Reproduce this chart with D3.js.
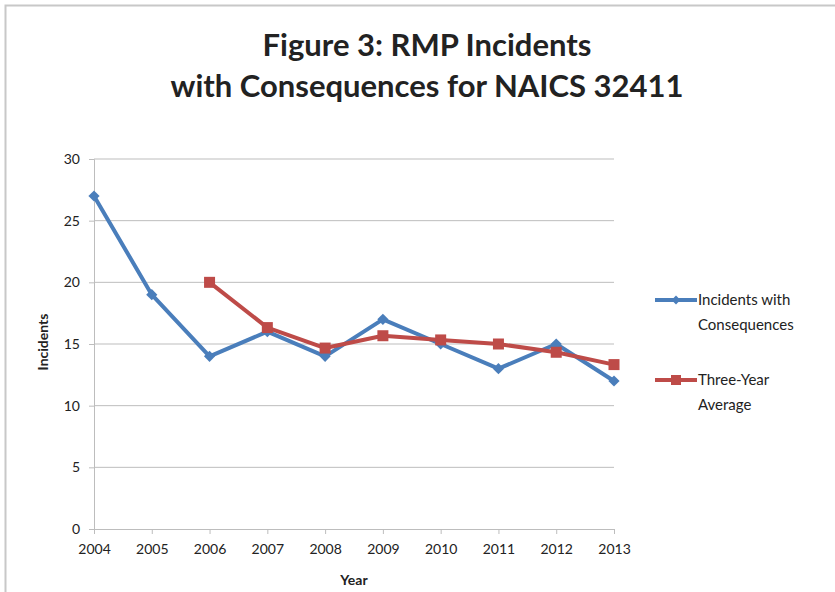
<!DOCTYPE html>
<html>
<head>
<meta charset="utf-8">
<script src="https://cdn.jsdelivr.net/npm/d3@7"></script>
<style>
  body { margin: 0; background: #fff; }
  text { font-family: Lato, "Open Sans", sans-serif; fill: #222; }
</style>
</head>
<body>
<svg id="chart" width="835" height="592"></svg>
<script>
// chart data
const years = [2004, 2005, 2006, 2007, 2008, 2009, 2010, 2011, 2012, 2013];
const incidents = [27, 19, 14, 16, 14, 17, 15, 13, 15, 12];
const avgYears = [2006, 2007, 2008, 2009, 2010, 2011, 2012, 2013];
const threeYearAvg = [20, 16.33, 14.67, 15.67, 15.33, 15, 14.33, 13.33];
const yTicks = [0, 5, 10, 15, 20, 25, 30];
const seriesNames = [["Incidents with", "Consequences"], ["Three-Year", "Average"]];

const blue = "#4a7ebb";
const red = "#be4b48";

let svg = d3.select("#chart");

// outer frame (top + left only visible)
svg.append("path")
    .attr("d", "M5.5,592 V5.5 H835")
    .attr("fill", "none")
    .attr("stroke", "#c8c8c8")
    .attr("stroke-width", 2);

// title
svg.append("text")
    .attr("x", 427).attr("y", 56)
    .attr("text-anchor", "middle")
    .style("font-size", "31px").style("font-weight", "bold")
    .text("Figure 3: RMP Incidents");
svg.append("text")
    .attr("x", 427).attr("y", 97)
    .attr("text-anchor", "middle")
    .style("font-size", "31px").style("font-weight", "bold")
    .text("with Consequences for NAICS 32411");

let x = d3.scalePoint().domain(years).range([94, 614]);
let y = d3.scaleLinear().domain([0, 30]).range([529, 159]);

// gridlines
svg.append("g")
    .selectAll("line")
    .data(yTicks.filter(d => d > 0))
    .enter().append("line")
    .attr("x1", 94).attr("x2", 614)
    .attr("y1", d => y(d)).attr("y2", d => y(d))
    .attr("stroke", "#bdbdbd").attr("stroke-width", 1);

// y axis
let yAxis = svg.append("g")
    .attr("transform", "translate(94,0)")
    .call(d3.axisLeft(y).tickValues(yTicks).tickSize(5).tickPadding(9));
yAxis.select(".domain").attr("stroke", "#bdbdbd");
yAxis.selectAll(".tick line").attr("stroke", "#bdbdbd");
yAxis.selectAll(".tick text").style("font-size", "14px").attr("fill", "#333");

// x axis
let xAxis = svg.append("g")
    .attr("transform", "translate(0,529)")
    .call(d3.axisBottom(x).tickSize(5).tickPadding(10));
xAxis.select(".domain").attr("stroke", "#bdbdbd");
xAxis.selectAll(".tick line").attr("stroke", "#bdbdbd");
xAxis.selectAll(".tick text").style("font-size", "14px").attr("fill", "#333");

// axis titles
svg.append("text")
    .attr("x", 354).attr("y", 585)
    .attr("text-anchor", "middle")
    .style("font-size", "14px").style("font-weight", "bold")
    .text("Year");
svg.append("text")
    .attr("transform", "translate(48,342) rotate(-90)")
    .attr("text-anchor", "middle")
    .style("font-size", "14px").style("font-weight", "bold")
    .text("Incidents");

let line = d3.line().x(d => x(d[0])).y(d => y(d[1]));

// blue series
let blueData = years.map((yr, i) => [yr, incidents[i]]);
svg.append("path")
    .datum(blueData)
    .attr("d", line)
    .attr("fill", "none").attr("stroke", blue)
    .attr("stroke-width", 4).attr("stroke-linejoin", "round");
svg.append("g").selectAll("path")
    .data(blueData)
    .enter().append("path")
    .attr("d", d3.symbol().type(d3.symbolDiamond2).size(80))
    .attr("transform", d => "translate(" + x(d[0]) + "," + y(d[1]) + ")")
    .attr("fill", blue);

// red series
let redData = avgYears.map((yr, i) => [yr, threeYearAvg[i]]);
svg.append("path")
    .datum(redData)
    .attr("d", line)
    .attr("fill", "none").attr("stroke", red)
    .attr("stroke-width", 4).attr("stroke-linejoin", "round");
svg.append("g").selectAll("rect")
    .data(redData)
    .enter().append("rect")
    .attr("x", d => x(d[0]) - 5.5).attr("y", d => y(d[1]) - 5.5)
    .attr("width", 11).attr("height", 11)
    .attr("fill", red);

// legend
const legendY = [300, 380];
[blue, red].forEach((c, i) => {
    let g = svg.append("g").attr("transform", "translate(655," + legendY[i] + ")");
    g.append("line").attr("x1", 0).attr("x2", 42)
        .attr("stroke", c).attr("stroke-width", 4);
    if (i == 0) {
        g.append("path").attr("transform", "translate(21,0)")
            .attr("d", d3.symbol().type(d3.symbolDiamond2).size(50))
            .attr("fill", c);
    } else {
        g.append("rect").attr("x", 16).attr("y", -5).attr("width", 10).attr("height", 10)
            .attr("fill", c);
    }
    seriesNames[i].forEach((t, j) => {
        g.append("text")
            .attr("x", 43).attr("y", 5 + j * 25)
            .style("font-size", "15px")
            .text(t);
    });
});
</script>
</body>
</html>
